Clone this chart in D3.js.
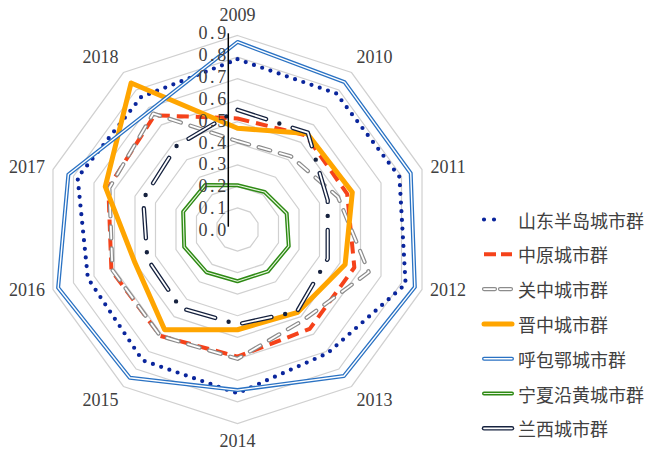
<!DOCTYPE html>
<html>
<head>
<meta charset="utf-8">
<script src="https://cdn.jsdelivr.net/npm/d3@7"></script>
<style>
  html, body { margin: 0; padding: 0; background: #ffffff; }
  svg { display: block; }
</style>
</head>
<body>
<svg id="chart" width="647" height="449"></svg>
<script>
// Years around the radar, one spoke each (clockwise from the top)
const years = ["2009", "2010", "2011", "2012", "2013", "2014", "2015", "2016", "2017", "2018"];

// Value axis ticks
const tickValues = [0, 0.1, 0.2, 0.3, 0.4, 0.5, 0.6, 0.7, 0.8, 0.9];

// Series values, 2009 → 2018
const shandong  = [0.79, 0.78, 0.79, 0.82, 0.71, 0.76, 0.75, 0.73, 0.78, 0.76];
const zhongyuan = [0.515, 0.54, 0.535, 0.57, 0.57, 0.59, 0.61, 0.615, 0.63, 0.655];
const guanzhong = [0.41, 0.42, 0.49, 0.64, 0.52, 0.60, 0.61, 0.61, 0.625, 0.665];
const jinzhong  = [0.47, 0.55, 0.56, 0.525, 0.475, 0.465, 0.575, 0.50, 0.645, 0.84];
const hubaoe    = [0.87, 0.845, 0.845, 0.865, 0.84, 0.745, 0.85, 0.875, 0.825, 0.685];
const ningxia   = [0.205, 0.215, 0.24, 0.25, 0.24, 0.24, 0.245, 0.26, 0.265, 0.255];
const lanxi     = [0.555, 0.555, 0.44, 0.44, 0.47, 0.44, 0.45, 0.44, 0.46, 0.48];

const seriesNames = ["山东半岛城市群", "中原城市群", "关中城市群", "晋中城市群", "呼包鄂城市群", "宁夏沿黄城市群", "兰西城市群"];
const seriesValues = [shandong, zhongyuan, guanzhong, jinzhong, hubaoe, ningxia, lanxi];

// Line styles per series (drawn in this order, later ones on top)
const styles = [
  { color: "#0A259C", width: 4.2, dash: "0 8.7", cap: "round", legendDash: "0 10", legendLen: 20 },
  { color: "#F5421A", width: 4, dash: "12 7", cap: "butt", legendDash: "12 5" },
  { color: "#8C8C8C", width: 4.2, dash: "12 10", cap: "round", inner: "#ffffff", innerWidth: 1.8, legendDash: "11 5" },
  { color: "#FFA500", width: 5 },
  { color: "#2A72C3", width: 4, inner: "#ffffff", innerWidth: 1.4 },
  { color: "#2E8A14", width: 4, inner: "#e8f5e0", innerWidth: 1.1 },
  { color: "#16223F", width: 4.4, dash: "30 14 0 14", cap: "round", inner: "#ffffff", innerWidth: 1.8, innerDash: "30 28" }
];

const svg = d3.select("#chart");
const cx = 237.5, cy = 229.5, R = 194;

const r = d3.scaleLinear().domain([0, 0.9]).range([0, R]);
const angle = d3.scaleLinear().domain([0, years.length]).range([0, 2 * Math.PI]);

const radial = d3.lineRadial()
  .angle((d, i) => angle(i))
  .radius(d => r(d))
  .curve(d3.curveLinearClosed);

const g = svg.append("g").attr("transform", `translate(${cx},${cy})`);

// Concentric decagon gridlines
g.append("g").attr("class", "grid")
  .selectAll("path")
  .data(tickValues.filter(v => v > 0))
  .join("path")
  .attr("d", v => radial(years.map(() => v)))
  .attr("fill", "none")
  .attr("stroke", "#d0d0d0")
  .attr("stroke-width", 1.2);

// Series
const seriesG = g.append("g").attr("class", "series");
seriesValues.forEach((vals, k) => {
  const s = styles[k];
  const d = radial(vals);
  seriesG.append("path")
    .attr("d", d)
    .attr("fill", "none")
    .attr("stroke", s.color)
    .attr("stroke-width", s.width)
    .attr("stroke-dasharray", s.dash || null)
    .attr("stroke-linecap", s.cap || "round")
    .attr("stroke-linejoin", "round");
  if (s.inner) {
    seriesG.append("path")
      .attr("d", d)
      .attr("fill", "none")
      .attr("stroke", s.inner)
      .attr("stroke-width", s.innerWidth)
      .attr("stroke-dasharray", s.innerDash || s.dash || null)
      .attr("stroke-linecap", s.cap || "round")
      .attr("stroke-linejoin", "round");
  }
});

// Year labels around the outside
const numFont = "'Liberation Serif', 'DejaVu Serif', serif";
g.append("g").attr("class", "year-labels")
  .selectAll("text")
  .data(years)
  .join("text")
  .each(function (y, i) {
    const a = angle(i);
    const s = Math.sin(a), c = Math.cos(a);
    const sx = Math.abs(s) < 0.1 ? 0 : Math.sign(s) * (18 + 8.5 * Math.abs(s));
    const sy = Math.sign(c) * Math.max(0, 26 * Math.abs(c) - 6);
    d3.select(this)
      .attr("x", s * R + sx)
      .attr("y", -(c * R + sy) - (c < -0.9 ? 3 : 1))
      .attr("text-anchor", "middle")
      .attr("dominant-baseline", "central");
  })
  .attr("font-family", numFont)
  .attr("font-size", 18)
  .attr("fill", "#404040")
  .text(d => d);

// Value axis (vertical line with tick labels)
const yLab = d3.scaleLinear().domain([0, 0.9]).range([230, 33.3]);
const axisX = 228.3;
svg.append("line")
  .attr("x1", axisX).attr("x2", axisX)
  .attr("y1", yLab(0.9)).attr("y2", yLab(0) - 3.3)
  .attr("stroke", "#000")
  .attr("stroke-width", 1.5);

svg.append("g").attr("class", "value-labels")
  .selectAll("text")
  .data(tickValues)
  .join("text")
  .attr("x", axisX + 0.5)
  .attr("y", d => yLab(d))
  .attr("text-anchor", "end")
  .attr("dominant-baseline", "central")
  .attr("font-family", numFont)
  .attr("font-size", 18)
  .attr("letter-spacing", 2.6)
  .attr("fill", "#404040")
  .text(d3.format(".1f"));

// Legend
const legend = svg.append("g").attr("class", "legend");
const legendY = d3.scaleLinear().domain([0, 1]).range([219.5, 254.3]);
seriesNames.forEach((name, k) => {
  const s = styles[k];
  const y = legendY(k);
  const x0 = 484, x1 = x0 + (s.legendLen || 28);
  const item = legend.append("g");
  item.append("line")
    .attr("x1", x0).attr("x2", x1).attr("y1", y).attr("y2", y)
    .attr("stroke", s.color)
    .attr("stroke-width", s.width)
    .attr("stroke-dasharray", s.legendDash || s.dash || null)
    .attr("stroke-linecap", s.cap || "round");
  if (s.inner) {
    item.append("line")
      .attr("x1", x0).attr("x2", x1).attr("y1", y).attr("y2", y)
      .attr("stroke", s.inner)
      .attr("stroke-width", s.innerWidth)
      .attr("stroke-dasharray", s.legendDash || null)
      .attr("stroke-linecap", s.cap || "round");
  }
  item.append("text")
    .attr("x", 518)
    .attr("y", y)
    .attr("dominant-baseline", "central")
    .attr("font-family", "'Noto Sans CJK SC', sans-serif")
    .attr("font-size", 18)
    .attr("fill", "#404040")
    .text(name);
});
</script>
</body>
</html>
